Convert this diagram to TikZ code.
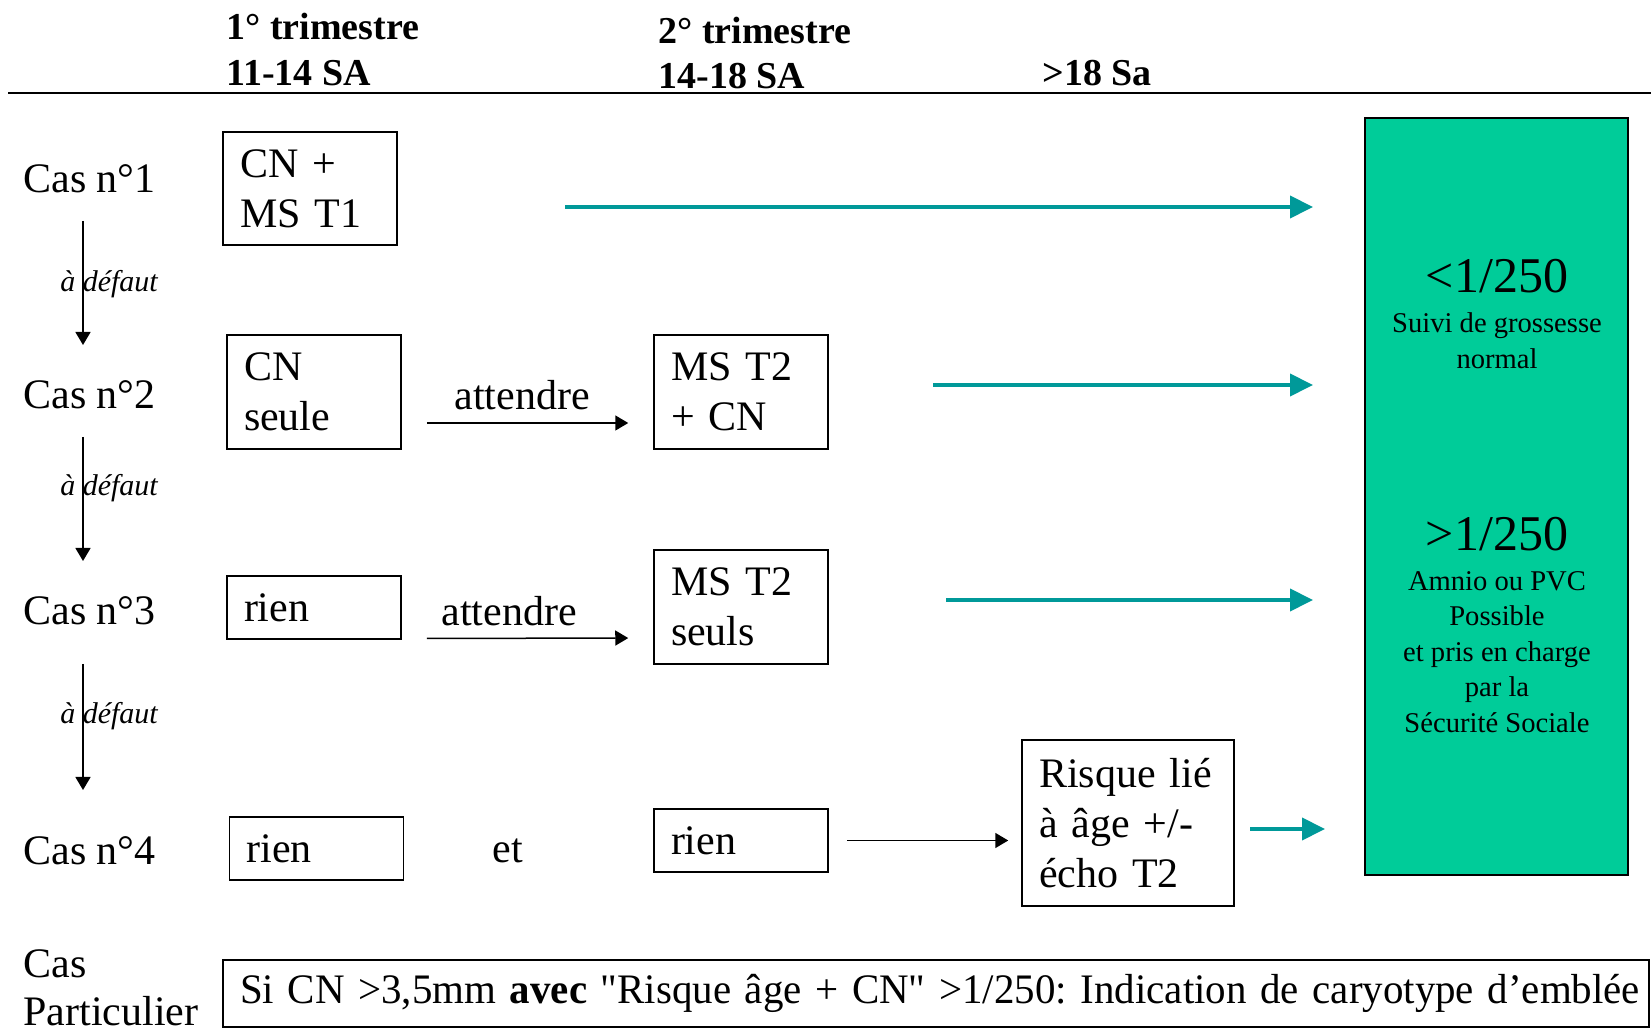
\documentclass[tikz,border=0pt]{standalone}
\usepackage{fontspec}
\setmainfont{Liberation Serif}
\newfontfamily\rawserif{Liberation Serif}[Ligatures=TeXOff]
\usepackage{xcolor}
\usepackage{graphicx}
\usepackage{tikz}
\usetikzlibrary{arrows.meta,calc}
\frenchspacing
\definecolor{arrowteal}{RGB}{0,153,153}
\definecolor{riskgreen}{RGB}{0,204,153}
\newcommand{\fsmain}{\fontsize{21}{25}\selectfont}
\newcommand{\fshead}{\fontsize{19}{23}\selectfont}
\newcommand{\fsnote}{\fontsize{15}{18}\selectfont}
\newcommand{\fsrisk}{\fontsize{25}{30}\selectfont}
\newcommand{\fsriskt}{\fontsize{14.3}{17.8}\selectfont}
\tikzstyle{header} = [anchor=base west, inner sep=0pt, font=\fshead\bfseries]
\tikzstyle{caselabel} = [anchor=base west, inner sep=0pt, font=\fsmain]
\tikzstyle{plain} = [inner sep=0pt, font=\fsmain]
\tikzstyle{boxed} = [draw, line width=0.75pt, inner xsep=8.5pt, inner ysep=0pt, text width=70pt, align=left, font=\fsmain]
\tikzstyle{fallback} = [inner sep=0pt, font=\fsnote\itshape]
\tikzstyle{flow} = [line width=0.75pt, -{Triangle[length=6.5pt,width=7.5pt]}]
\tikzstyle{result} = [line width=2pt, arrowteal, -{Triangle[length=11.5pt,width=11pt]}]
\tikzstyle{risktext} = [inner sep=0pt, align=center, font=\fsriskt]

\begin{document}
\begin{tikzpicture}[x=0.5pt,y=-0.5pt]
  \useasboundingbox (0,0) rectangle (1651,1031);
  % headers
  \node [header](hd1a) at (226,40) {1° trimestre};
  \node [header](hd1b) at (226,86) {11-14 SA};
  \node [header](hd2a) at (658,44) {2° trimestre};
  \node [header](hd2b) at (658,89) {14-18 SA};
  \node [header](hd3) at (1042,86) {>18 Sa};
  \coordinate (rulel) at (8,93);
  \coordinate (ruler) at (1651,93);
  \draw [line width=1pt] (rulel) -- (ruler);

  % cases
  \node [caselabel](cas1) at (23,193) {Cas n°1};
  \node [caselabel](cas2) at (23,409) {Cas n°2};
  \node [caselabel](cas3) at (23,625) {Cas n°3};
  \node [caselabel](cas4) at (23,865) {Cas n°4};
  \node [caselabel](cas5a) at (23,978) {Cas};
  \node [caselabel](cas5b) at (23,1025) {Particulier};

  \node [fallback](def1) at (109,284) {à défaut};
  \node [fallback](def2) at (109,488) {à défaut};
  \node [fallback](def3) at (109,716) {à défaut};
  \coordinate (v1a) at (83,221); \coordinate (v1b) at (83,345);
  \coordinate (v2a) at (83,437); \coordinate (v2b) at (83,561);
  \coordinate (v3a) at (83,664); \coordinate (v3b) at (83,790);

  % boxes
  \node [boxed, minimum height=56.5pt](cnms) at (310,188.5) {CN +\\MS T1};
  \node [boxed, minimum height=57pt](cnseule) at (314,392) {CN\\seule};
  \node [boxed, minimum height=57pt](mscn) at (741,392) {MS T2\\+ CN};
  \node [boxed, minimum height=31.5pt](rien3) at (314,607.5) {rien};
  \node [boxed, minimum height=57pt](msseuls) at (741,607) {MS T2\\seuls};
  \node [boxed, minimum height=31.5pt](rien4a) at (316.5,848.5) {rien};
  \node [boxed, minimum height=31.5pt](rien4b) at (741,840.5) {rien};
  \node [boxed, minimum height=83pt, text width=89pt](risque) at (1128,823) {Risque lié\\à âge +/-\\écho T2};
  \node [plain](att2) at (522,395) {attendre};
  \node [plain](att3) at (509,611) {attendre};
  \node [plain](et) at (508,851) {et};

  \node [boxed, minimum height=33.5pt, text width=696pt](particulier) at (936,993.5)
    {\resizebox{700pt}{\height}{\rawserif Si CN >3,5mm \textbf{avec} "Risque âge + CN" >1/250: Indication de caryotype d’emblée}};

  % result box
  \node [draw, line width=0.75pt, fill=riskgreen, minimum width=131.5pt, minimum height=378.5pt](risk) at (1496.5,496.5) {};
  \node [risktext, font=\fsrisk](lt) at (1497,276) {<1/250};
  \node [risktext](lttxt) at (1497,341) {Suivi de grossesse\\normal};
  \node [risktext, font=\fsrisk](gt) at (1497,534) {>1/250};
  \node [risktext](gttxt) at (1497,652) {Amnio ou PVC\\Possible\\et pris en charge\\par la\\Sécurité Sociale};

  \coordinate (t1a) at (565,207); \coordinate (t1b) at (1313,207);
  \coordinate (t2a) at (933,385); \coordinate (t2b) at (1313,385);
  \coordinate (t3a) at (946,600); \coordinate (t3b) at (1313,600);
  \coordinate (t4a) at (1250,829); \coordinate (t4b) at (1325,829);

  \foreach \from/\to in {v1a/v1b,v2a/v2b,v3a/v3b}
    \draw [flow] (\from) -- (\to);
  \foreach \from/\to in {cnseule/mscn,rien3/msseuls}
    \draw [flow, shorten <=12.5pt, shorten >=12.5pt] ($(\from.east)+(0,31)$) -- ($(\to.west)+(0,31)$);
  \draw [flow, shorten <=9pt, shorten >=6.5pt] (rien4b.east) -- (rien4b.east -| risque.west);
  \foreach \from/\to in {t1a/t1b,t2a/t2b,t3a/t3b,t4a/t4b}
    \draw [result] (\from) -- (\to);
\end{tikzpicture}
\end{document}
